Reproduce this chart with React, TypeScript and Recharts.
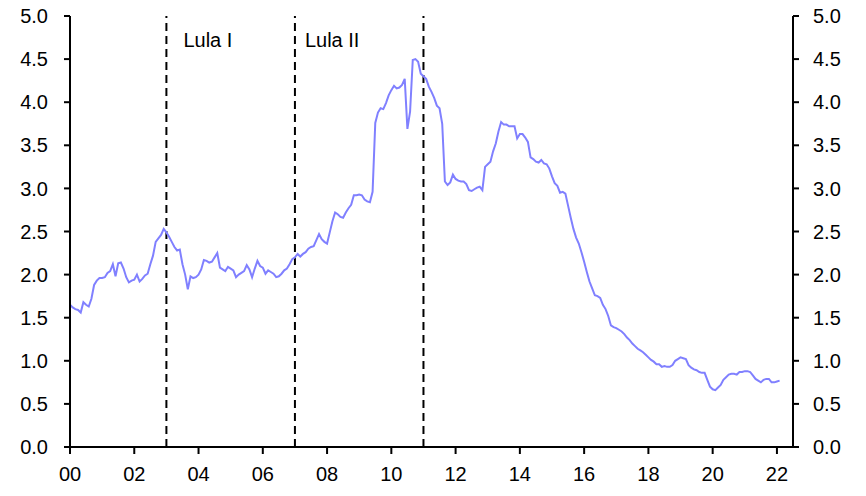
import React from 'react';
import { LineChart, Line, XAxis, YAxis, ReferenceLine } from 'recharts';

// Monthly values (Jan..Dec) per year
const y2000 = [1.65, 1.62, 1.60, 1.59, 1.56, 1.68, 1.65, 1.63, 1.72, 1.88, 1.93, 1.96];
const y2001 = [1.96, 1.97, 2.02, 2.04, 2.12, 1.98, 2.13, 2.14, 2.07, 1.97, 1.91, 1.93];
const y2002 = [1.94, 2.00, 1.92, 1.95, 1.99, 2.01, 2.12, 2.22, 2.38, 2.42, 2.46, 2.53];
const y2003 = [2.49, 2.44, 2.38, 2.32, 2.28, 2.29, 2.12, 2.00, 1.83, 1.98, 1.96, 1.97];
const y2004 = [2.00, 2.06, 2.17, 2.16, 2.14, 2.15, 2.20, 2.25, 2.08, 2.06, 2.04, 2.09];
const y2005 = [2.07, 2.05, 1.97, 2.00, 2.02, 2.04, 2.11, 2.06, 1.97, 2.07, 2.16, 2.10];
const y2006 = [2.08, 2.01, 2.05, 2.03, 2.01, 1.97, 1.98, 2.01, 2.05, 2.07, 2.12, 2.18];
const y2007 = [2.20, 2.24, 2.21, 2.24, 2.26, 2.30, 2.32, 2.33, 2.40, 2.47, 2.41, 2.38];
const y2008 = [2.36, 2.49, 2.62, 2.72, 2.70, 2.67, 2.66, 2.72, 2.77, 2.81, 2.92, 2.92];
const y2009 = [2.93, 2.92, 2.87, 2.85, 2.84, 2.96, 3.76, 3.88, 3.93, 3.92, 3.99, 4.08];
const y2010 = [4.14, 4.19, 4.16, 4.17, 4.20, 4.27, 3.69, 3.89, 4.49, 4.50, 4.47, 4.33];
const y2011 = [4.30, 4.27, 4.18, 4.12, 4.05, 3.96, 3.93, 3.75, 3.08, 3.04, 3.07, 3.16];
const y2012 = [3.11, 3.09, 3.08, 3.08, 3.05, 2.98, 2.97, 2.99, 3.01, 3.02, 2.98, 3.25];
const y2013 = [3.28, 3.31, 3.43, 3.52, 3.66, 3.77, 3.74, 3.74, 3.72, 3.72, 3.72, 3.58];
const y2014 = [3.63, 3.63, 3.59, 3.54, 3.36, 3.34, 3.31, 3.30, 3.33, 3.29, 3.28, 3.23];
const y2015 = [3.14, 3.06, 3.03, 2.95, 2.96, 2.94, 2.80, 2.66, 2.53, 2.43, 2.36, 2.26];
const y2016 = [2.15, 2.03, 1.92, 1.84, 1.76, 1.75, 1.73, 1.65, 1.60, 1.52, 1.41, 1.39];
const y2017 = [1.38, 1.36, 1.34, 1.31, 1.27, 1.24, 1.20, 1.17, 1.14, 1.12, 1.10, 1.07];
const y2018 = [1.04, 1.01, 0.99, 0.96, 0.96, 0.93, 0.94, 0.93, 0.93, 0.95, 1.00, 1.02];
const y2019 = [1.04, 1.03, 1.02, 0.95, 0.92, 0.90, 0.89, 0.87, 0.86, 0.86, 0.78, 0.70];
const y2020 = [0.67, 0.66, 0.69, 0.72, 0.78, 0.81, 0.84, 0.85, 0.85, 0.84, 0.87, 0.87];
const y2021 = [0.88, 0.88, 0.87, 0.83, 0.79, 0.77, 0.75, 0.78, 0.79, 0.79, 0.75, 0.75];
const y2022 = [0.76, 0.77];

const years = [2000, 2001, 2002, 2003, 2004, 2005, 2006, 2007, 2008, 2009, 2010, 2011,
  2012, 2013, 2014, 2015, 2016, 2017, 2018, 2019, 2020, 2021, 2022];
const yearValues = [y2000, y2001, y2002, y2003, y2004, y2005, y2006, y2007, y2008, y2009,
  y2010, y2011, y2012, y2013, y2014, y2015, y2016, y2017, y2018, y2019, y2020, y2021, y2022];

const xTicks = [2000, 2002, 2004, 2006, 2008, 2010, 2012, 2014, 2016, 2018, 2020, 2022];
const xTickLabels = ['00', '02', '04', '06', '08', '10', '12', '14', '16', '18', '20', '22'];
const yTicks = [0, 0.5, 1, 1.5, 2, 2.5, 3, 3.5, 4, 4.5, 5];
const terms = [
  { year: 2003, label: 'Lula I', dx: 17 },
  { year: 2007, label: 'Lula II', dx: 10 },
  { year: 2011, label: '', dx: 0 },
];

const data: { t: number; v: number }[] = [];
years.forEach((yr, i) => {
  yearValues[i].forEach((v, m) => data.push({ t: yr + m / 12, v }));
});

const FONT = "'Liberation Sans', Arial, sans-serif";
const tickStyle = { fontSize: 20, fill: '#000', fontFamily: FONT };
const axisLine = { stroke: '#000', strokeWidth: 2 };
const tickLine = { stroke: '#000', strokeWidth: 2 };

export default function App() {
  return (
    <div style={{ width: 858, height: 488 }}>
      <LineChart
        width={858}
        height={488}
        data={data}
        margin={{ top: 8, right: 0, left: 0, bottom: 0 }}
        style={{ overflow: 'visible' }}
      >
        <XAxis
          dataKey="t"
          type="number"
          domain={[2000, 2022.5]}
          ticks={xTicks}
          tickFormatter={(v: number) => xTickLabels[xTicks.indexOf(v)] ?? ''}
          tick={tickStyle}
          axisLine={axisLine}
          tickLine={tickLine}
          tickSize={7}
          tickMargin={13}
          height={49}
          allowDataOverflow
        />
        <YAxis
          yAxisId="left"
          domain={[0, 5]}
          ticks={yTicks}
          tickFormatter={(v: number) => v.toFixed(1)}
          tick={tickStyle}
          axisLine={axisLine}
          tickLine={tickLine}
          tickSize={6}
          tickMargin={16}
          width={62}
          interval={0}
        />
        <YAxis
          yAxisId="right"
          orientation="right"
          domain={[0, 5]}
          ticks={yTicks}
          tickFormatter={(v: number) => v.toFixed(1)}
          tick={tickStyle}
          axisLine={axisLine}
          tickLine={tickLine}
          tickSize={6}
          tickMargin={14}
          width={73}
          interval={0}
        />
        {terms.map((tm) => (
          <ReferenceLine
            key={tm.year}
            x={tm.year}
            yAxisId="left"
            stroke="#000"
            strokeWidth={2}
            strokeDasharray="8 5"
            label={(props: any) => {
              const vb = props.viewBox || {};
              return (
                <text x={(vb.x ?? 0) + tm.dx} y={(vb.y ?? 0) + 31} fontSize={20} fontFamily={FONT} fill="#000">
                  {tm.label}
                </text>
              );
            }}
          />
        ))}
        <Line
          yAxisId="right"
          type="linear"
          dataKey="v"
          stroke="none"
          strokeWidth={0}
          dot={false}
          activeDot={false}
          isAnimationActive={false}
        />
        <Line
          yAxisId="left"
          type="linear"
          dataKey="v"
          stroke="#8080ff"
          strokeWidth={2}
          dot={false}
          isAnimationActive={false}
        />
      </LineChart>
    </div>
  );
}
